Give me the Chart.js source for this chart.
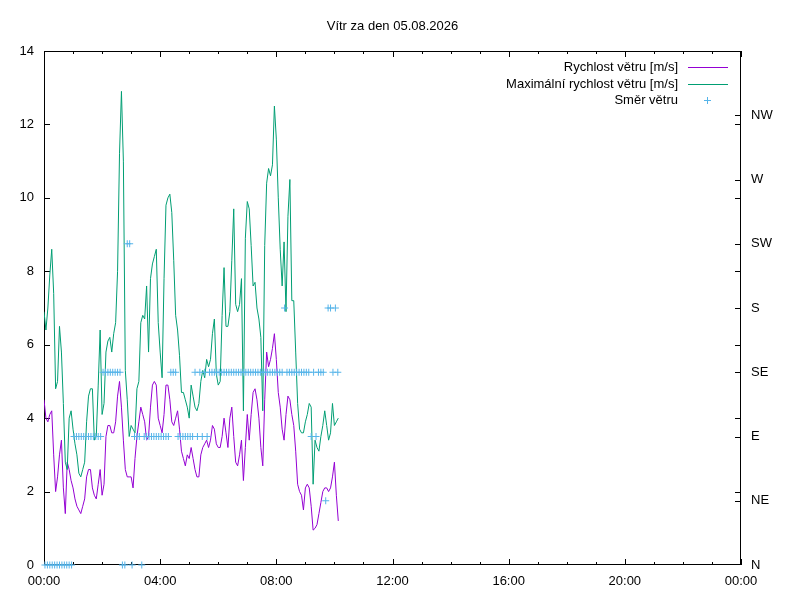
<!DOCTYPE html>
<html>
<head>
<meta charset="utf-8">
<title>Vítr za den 05.08.2026</title>
<script src="https://cdn.jsdelivr.net/npm/chart.js@4/dist/chart.umd.min.js"></script>
<style>
  html, body { margin: 0; padding: 0; background: #fff; }
  canvas { display: block; }
</style>
</head>
<body>
<canvas id="chart" width="800" height="600"></canvas>
<script>
// Data
const chartTitle = "Vítr za den 05.08.2026";
const seriesLabels = ["Rychlost větru [m/s]", "Maximální rychlost větru [m/s]", "Směr větru"];
const xTickLabels = ["00:00", "04:00", "08:00", "12:00", "16:00", "20:00", "00:00"];
const dirLabels = ["N", "NE", "E", "SE", "S", "SW", "W", "NW"];

// vzorky rychlosti po 4 minutach od 00:00
const speedStepMin = 4;
const avgSpeed = [
  4.5, 4.0, 3.9, 4.1, 4.2, 3.0, 2.0, 2.4, 3.0, 3.4,
  2.1, 1.4, 2.8, 2.6, 2.3, 2.1, 1.8, 1.6, 1.5, 1.4,
  1.6, 1.8, 2.4, 2.6, 2.6, 2.1, 1.9, 1.8, 2.2, 2.6,
  1.9, 2.2, 3.5, 3.8, 3.8, 3.6, 3.6, 3.9, 4.6, 5.0,
  4.3, 3.4, 2.6, 2.4, 2.4, 2.4, 2.1, 2.9, 3.5, 3.9,
  4.3, 4.1, 3.9, 3.4, 3.5, 4.3, 4.9, 5.0, 4.9, 4.0,
  3.8, 3.6, 4.1, 4.9, 4.9, 4.5, 3.9, 3.8, 4.0, 4.2,
  3.7, 3.1, 2.9, 2.7, 3.0, 2.9, 3.2, 2.9, 2.6, 2.4,
  2.4, 3.0, 3.2, 3.3, 3.4, 3.2, 3.4, 3.8, 3.7, 3.3,
  3.2, 3.2, 3.5, 4.0, 3.6, 3.2, 4.0, 4.3, 3.5, 2.8,
  2.7, 3.0, 3.4, 2.3, 3.2, 4.1, 3.4, 4.1, 4.7, 4.8,
  4.5, 4.0, 3.2, 2.7, 4.5, 5.8, 5.4, 5.6, 5.9, 6.3,
  5.6, 4.7, 4.3, 3.7, 3.4, 4.1, 4.6, 4.5, 4.1, 3.8,
  3.1, 2.2, 2.0, 1.9, 1.5, 2.1, 2.2, 2.1, 1.6, 0.95,
  1.0, 1.1, 1.4, 1.7, 2.0, 2.1, 2.1, 2.0, 2.1, 2.4,
  2.8, 1.9, 1.2
];
const maxSpeed = [
  6.9, 6.4, 7.0, 7.9, 8.6, 7.4, 4.8, 5.0, 6.5, 5.8,
  4.4, 2.8, 2.6, 4.0, 4.2, 3.7, 3.3, 3.0, 2.5, 2.4,
  2.6, 2.8, 3.9, 4.6, 4.8, 4.8, 3.4, 3.5, 4.9, 6.4,
  4.1, 4.4, 5.8, 6.1, 6.2, 5.8, 6.3, 6.6, 8.0, 11.2,
  12.9, 11.0, 5.3, 4.5, 3.5, 3.8, 3.7, 3.6, 4.8, 5.0,
  6.6, 6.8, 6.7, 7.6, 5.8, 7.8, 8.2, 8.4, 8.6, 6.6,
  5.8, 5.1, 7.8, 9.8, 10.0, 10.1, 9.6, 8.3, 6.8, 6.4,
  5.7, 4.7, 4.7, 4.5, 4.3, 4.0, 4.9, 4.6, 4.3, 4.2,
  4.4, 5.0, 5.3, 5.1, 5.6, 5.4, 5.6, 6.3, 6.7, 5.2,
  4.9, 5.0, 6.8, 8.1, 6.5, 6.5, 6.9, 8.3, 9.7, 7.1,
  6.9, 7.1, 7.8, 4.2, 8.9, 9.9, 9.7, 8.7, 7.6, 7.7,
  7.0, 6.7, 6.2, 4.2, 8.7, 10.4, 10.8, 10.6, 10.9, 12.5,
  11.6, 10.0, 8.6, 7.6, 8.8, 6.9, 9.5, 10.5, 7.2, 7.2,
  5.8, 4.4, 3.7, 3.6, 3.6, 3.9, 4.1, 4.4, 4.3, 2.2,
  3.4, 3.2, 3.1, 3.5, 3.8, 4.2, 3.8, 3.4, 3.6, 4.4,
  3.8, 3.9, 4.0
];

// smer po 5 minutach od 00:02
const dirStartMin = 2;
const dirStepMin = 5;
const windDir = [
  "N","N","N","N","N","N","N","N","N","N","N","N",
  "E","E","E","E","E","E","E","E","E","E","E","E",
  "SE","SE","SE","SE","SE","SE","SE","SE",
  "N","N","SW","SW","N","E","E","E","N",
  "E","E","E","E","E","E","E","E","E","E","E",
  "SE","SE","SE",
  "E","E","E","E","E","E","E",
  "SE","E","SE","E","SE","E",
  "SE","SE","SE","SE","SE","SE","SE","SE","SE","SE",
  "SE","SE","SE","SE","SE","SE","SE","SE","SE","SE",
  "SE","SE","SE","SE","SE","SE","SE","SE","SE","SE","SE",
  "S",
  "SE","SE","SE","SE","SE","SE","SE","SE","SE","SE",
  "E","SE","E","SE","SE","SE",
  "NE",
  "S","S","SE","S","SE"
];

const colors = ["#9400d3", "#009e73", "#56b4e9"];

function hours(min){ return min / 60; }

const avgPoints = avgSpeed.map(function(v, i){ return { x: hours(i * speedStepMin), y: v }; });
const maxPoints = maxSpeed.map(function(v, i){ return { x: hours(i * speedStepMin), y: v }; });
const dirPoints = windDir.map(function(d, i){
  return { x: hours(dirStartMin + i * dirStepMin), y: dirLabels.indexOf(d) * 45 };
});

// ramecek a ticky dovnitr jako gnuplot (pod daty)
const frameTicks = {
  id: "frameTicks",
  beforeDatasetsDraw(chart){
    const { ctx, chartArea: a, scales } = chart;
    ctx.save();
    ctx.strokeStyle = "#000";
    ctx.lineWidth = 1;
    ctx.beginPath();
    for(let h = 0; h <= 24; h++){
      const px = Math.round(scales.x.getPixelForValue(h)) + 0.5;
      const len = h % 4 === 0 ? 6 : 3;
      ctx.moveTo(px, a.bottom); ctx.lineTo(px, a.bottom - len);
      ctx.moveTo(px, a.top); ctx.lineTo(px, a.top + len);
    }
    for(let v = 2; v < 14; v += 2){
      const py = Math.round(scales.y.getPixelForValue(v)) + 0.5;
      ctx.moveTo(a.left, py); ctx.lineTo(a.left + 6, py);
      ctx.moveTo(a.right, py); ctx.lineTo(a.right - 6, py);
    }
    for(let d = 45; d < 360; d += 45){
      const py = Math.round(scales.y1.getPixelForValue(d)) + 0.5;
      ctx.moveTo(a.right, py); ctx.lineTo(a.right - 6, py);
    }
    ctx.stroke();
    ctx.strokeRect(Math.round(a.left) + 0.5, Math.round(a.top) + 0.5,
      Math.round(a.right - a.left) - 1, Math.round(a.bottom - a.top) - 1);
    ctx.restore();
  }
};

// legenda vpravo nahore
const keyBox = {
  id: "keyBox",
  afterDraw(chart){
    const { ctx, chartArea: a } = chart;
    ctx.save();
    ctx.font = '13px "Liberation Sans", Arial, sans-serif';
    ctx.textAlign = "right";
    ctx.textBaseline = "middle";
    chart.data.datasets.forEach(function(ds, i){
      const y = Math.round(a.top + 16 + i * 16.5);
      ctx.fillStyle = "#000";
      ctx.fillText(ds.label, a.right - 63, y + 0.5);
      ctx.fillStyle = colors[i];
      if(ds.showLine === false){
        const cx = Math.round(a.right - 34);
        ctx.fillRect(cx - 3, y, 7, 1);
        ctx.fillRect(cx, y - 3, 1, 7);
      } else {
        ctx.fillRect(Math.round(a.right - 53), y, 40, 1);
      }
    });
    ctx.restore();
  }
};

Chart.defaults.font.family = '"Liberation Sans", Arial, sans-serif';
Chart.defaults.font.size = 13;
Chart.defaults.color = "#000";

new Chart(document.getElementById("chart"), {
  type: "line",
  data: {
    datasets: [
      { label: seriesLabels[0], data: avgPoints, borderColor: colors[0], borderWidth: 1,
        pointRadius: 0, tension: 0, yAxisID: "y", order: 3 },
      { label: seriesLabels[1], data: maxPoints, borderColor: colors[1], borderWidth: 1,
        pointRadius: 0, tension: 0, yAxisID: "y", order: 2 },
      { label: seriesLabels[2], data: dirPoints, borderColor: colors[2], backgroundColor: colors[2],
        showLine: false, pointStyle: "cross", pointRadius: 3.5, borderWidth: 1,
        yAxisID: "y1", order: 1, clip: false }
    ]
  },
  options: {
    responsive: false,
    animation: false,
    events: [],
    layout: { padding: 0 },
    plugins: {
      legend: { display: false },
      tooltip: { enabled: false },
      title: {
        display: true, text: chartTitle, fullSize: false, color: "#000",
        font: { size: 13, weight: "normal", lineHeight: 16 / 13 },
        padding: { top: 18, bottom: 17 }
      }
    },
    scales: {
      x: {
        type: "linear", min: 0, max: 24,
        grid: { display: false, drawTicks: false },
        border: { display: false },
        ticks: { stepSize: 4, padding: 9, maxRotation: 0,
          callback: function(v){ return xTickLabels[v / 4]; } },
        afterFit: function(s){ s.height = 35; }
      },
      y: {
        position: "left", min: 0, max: 14,
        grid: { display: false, drawTicks: false },
        border: { display: false },
        ticks: { stepSize: 2, padding: 10 },
        afterFit: function(s){ s.width = 44; }
      },
      y1: {
        position: "right", min: 0, max: 360,
        grid: { display: false, drawTicks: false },
        border: { display: false },
        ticks: { stepSize: 45, padding: 10,
          callback: function(v){ return v < 360 ? dirLabels[v / 45] : ""; } },
        afterFit: function(s){ s.width = 59; }
      }
    }
  },
  plugins: [frameTicks, keyBox]
});
</script>
</body>
</html>
